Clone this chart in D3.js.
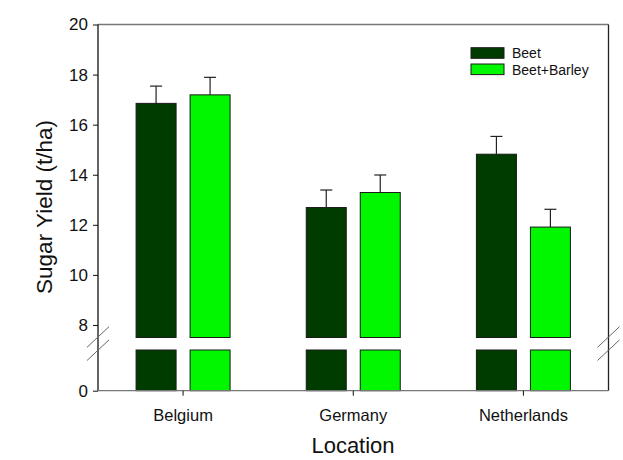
<!DOCTYPE html>
<html>
<head>
<meta charset="utf-8">
<script src="https://cdnjs.cloudflare.com/ajax/libs/d3/7.8.5/d3.min.js"></script>
<style>
body { margin: 0; background: #fff; }
svg text { font-family: "Liberation Sans", Arial, sans-serif; fill: #111; }
</style>
</head>
<body>
<svg width="623" height="460"></svg>
<script>
// data
var locations = ["Belgium", "Germany", "Netherlands"];
var seriesNames = ["Beet", "Beet+Barley"];
var beet = [16.85, 12.69, 14.82];
var beetBarley = [17.19, 13.29, 11.91];
var beetErr = [0.69, 0.70, 0.71];
var beetBarleyErr = [0.70, 0.70, 0.71];
var upperTicks = [8, 10, 12, 14, 16, 18, 20];
var lowerTicks = [0];

var colors = ["#003c00", "#00f700"];

var svg = d3.select("svg");
var pLeft = 98, pRight = 608.5, pTop = 24.5, pBottom = 390.7;

// broken y axis: two segments
var yUp = d3.scaleLinear().domain([7.5, 20]).range([337.5, pTop]);
var yLow = d3.scaleLinear().domain([0, 1]).range([pBottom, 350]);

var x = d3.scaleBand().domain(locations).range([pLeft, pRight]).padding(0);

var rows = locations.map(function(loc, i){
	return [
		{loc: loc, s: 0, v: beet[i], e: beetErr[i]},
		{loc: loc, s: 1, v: beetBarley[i], e: beetBarleyErr[i]}
	];
}).flat();

function barX(d){
	var c = x(d.loc) + x.bandwidth()/2;
	return d.s == 0 ? c - 47 : c + 7;
}

// frame
svg.append("line").attr("x1", pLeft).attr("x2", pRight).attr("y1", pTop).attr("y2", pTop)
	.attr("style", "stroke:#777;stroke-width:1.3");
svg.append("line").attr("x1", pRight).attr("x2", pRight).attr("y1", pTop).attr("y2", pBottom)
	.attr("style", "stroke:#222;stroke-width:1.3");

// error bars (upward only)
var eb = svg.append("g").selectAll("g").data(rows).enter().append("g")
	.attr("style", "stroke:#222;stroke-width:1.2");
eb.append("line")
	.attr("x1", function(d){ return barX(d) + 20; })
	.attr("x2", function(d){ return barX(d) + 20; })
	.attr("y1", function(d){ return yUp(d.v); })
	.attr("y2", function(d){ return yUp(d.v + d.e); });
eb.append("line")
	.attr("x1", function(d){ return barX(d) + 14; })
	.attr("x2", function(d){ return barX(d) + 26; })
	.attr("y1", function(d){ return yUp(d.v + d.e); })
	.attr("y2", function(d){ return yUp(d.v + d.e); });

// upper bar pieces
svg.append("g").selectAll("rect").data(rows).enter().append("rect")
	.attr("x", function(d){ return barX(d); })
	.attr("width", 40)
	.attr("y", function(d){ return yUp(d.v); })
	.attr("height", function(d){ return yUp(7.5) - yUp(d.v); })
	.attr("fill", function(d){ return colors[d.s]; })
	.attr("style", "stroke:#1a1a1a;stroke-width:1");

// lower bar pieces
svg.append("g").selectAll("rect").data(rows).enter().append("rect")
	.attr("x", function(d){ return barX(d); })
	.attr("width", 40)
	.attr("y", yLow(1))
	.attr("height", yLow(0) - yLow(1))
	.attr("fill", function(d){ return colors[d.s]; })
	.attr("style", "stroke:#1a1a1a;stroke-width:1");

// y axis
svg.append("line").attr("x1", pLeft).attr("x2", pLeft).attr("y1", pTop).attr("y2", pBottom)
	.attr("style", "stroke:#111;stroke-width:1.3");
var ya = svg.append("g").attr("transform", "translate(" + pLeft + ",0)")
	.call(d3.axisLeft(yUp).tickValues(upperTicks).tickSize(5).tickPadding(5).tickFormat(d3.format("d")));
var yb = svg.append("g").attr("transform", "translate(" + pLeft + ",0)")
	.call(d3.axisLeft(yLow).tickValues(lowerTicks).tickSize(5).tickPadding(5).tickFormat(d3.format("d")));
[ya, yb].forEach(function(g){
	g.select(".domain").remove();
	g.selectAll("line").attr("stroke", "#111");
	g.selectAll("text").attr("style", "font-size:17px;font-family:'Liberation Sans',Arial,sans-serif;fill:#111");
});

// x axis
svg.append("line").attr("x1", pLeft).attr("x2", pRight).attr("y1", pBottom).attr("y2", pBottom)
	.attr("style", "stroke:#777;stroke-width:1.3");
var xa = svg.append("g").attr("transform", "translate(0," + pBottom + ")")
	.call(d3.axisBottom(x).tickSize(5).tickPadding(14));
xa.select(".domain").remove();
xa.selectAll("line").attr("stroke", "#111");
xa.selectAll("text").attr("style", "font-size:16.5px;font-family:'Liberation Sans',Arial,sans-serif;fill:#111");

// break marks
[pLeft, pRight].forEach(function(bx){
	[0, 13.2].forEach(function(off){
		svg.append("line")
			.attr("x1", bx - 11).attr("y1", 347.3 + off)
			.attr("x2", bx + 11).attr("y2", 326.7 + off)
			.attr("style", "stroke:#666;stroke-width:1");
	});
});

// axis titles
svg.append("text").attr("x", 353).attr("y", 453).attr("text-anchor", "middle")
	.attr("style", "font-size:22px").text("Location");
svg.append("text").attr("transform", "translate(52,207) rotate(-90)").attr("text-anchor", "middle")
	.attr("style", "font-size:22.5px").text("Sugar Yield (t/ha)");

// legend
var lg = svg.append("g").selectAll("g").data(seriesNames).enter().append("g")
	.attr("transform", function(d, i){ return "translate(471," + (47.7 + i*16.3) + ")"; });
lg.append("rect").attr("width", 33).attr("height", 10.6)
	.attr("fill", function(d, i){ return colors[i]; })
	.attr("style", "stroke:#1a1a1a;stroke-width:1");
lg.append("text").attr("x", 41).attr("y", 10.5).attr("style", "font-size:14px")
	.text(function(d){ return d; });
</script>
</body>
</html>
